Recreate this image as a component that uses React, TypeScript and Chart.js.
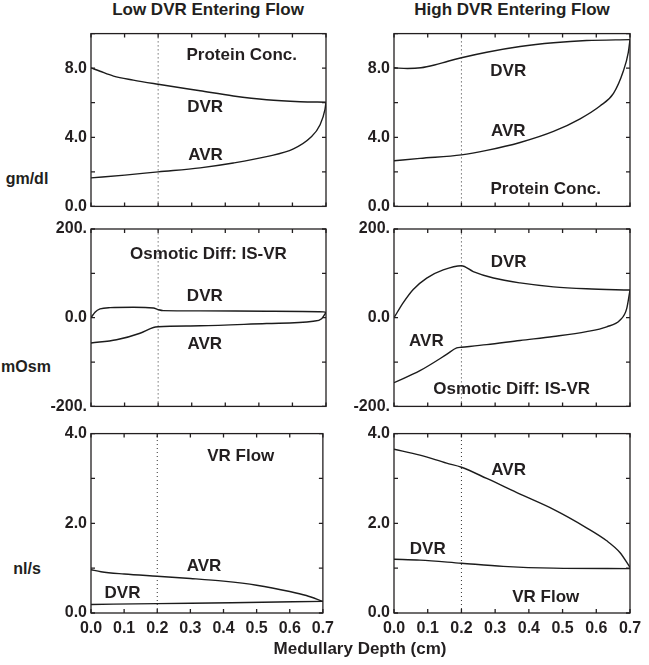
import React, { useEffect, useRef } from "react";
import { Chart, registerables } from "chart.js";

Chart.register(...registerables);

const INK = "#231f20";
const FONT = '"Liberation Sans", Arial, Helvetica, sans-serif';

// ---------- data (medullary depth in cm) ----------
// Low DVR entering flow, protein concentration (gm/dl)
const lowProtDvrX = [0, 0.027, 0.067, 0.126, 0.2, 0.325, 0.424, 0.523, 0.623, 0.7];
const lowProtDvrY = [8.02, 7.82, 7.54, 7.31, 7.07, 6.69, 6.39, 6.17, 6.06, 6.03];
const lowProtAvrX = [0, 0.101, 0.2, 0.325, 0.424, 0.523, 0.603, 0.653, 0.682, 0.697, 0.7];
const lowProtAvrY = [1.65, 1.81, 2.0, 2.23, 2.51, 2.88, 3.33, 3.97, 4.71, 5.62, 6.03];

// High DVR entering flow, protein concentration (gm/dl)
const highProtDvrX = [0, 0.04, 0.08, 0.12, 0.16, 0.2, 0.275, 0.374, 0.473, 0.571, 0.7];
const highProtDvrY = [8.02, 7.98, 8.02, 8.18, 8.4, 8.6, 8.92, 9.25, 9.47, 9.6, 9.65];
const highProtAvrX = [0, 0.077, 0.2, 0.275, 0.374, 0.473, 0.552, 0.611, 0.651, 0.68, 0.695, 0.7];
const highProtAvrY = [2.64, 2.78, 2.98, 3.24, 3.7, 4.34, 5.07, 5.81, 6.54, 7.82, 8.92, 9.65];

// Low DVR entering flow, osmotic difference IS-VR (mOsm)
const lowOsmDvrX = [0, 0.012, 0.027, 0.057, 0.126, 0.186, 0.2, 0.215, 0.325, 0.523, 0.692, 0.7];
const lowOsmDvrY = [0, 12.5, 19.8, 22.7, 23.4, 22, 18.3, 16, 15.4, 14.6, 13.2, 12];
const lowOsmAvrX = [0, 0.076, 0.146, 0.186, 0.2, 0.325, 0.523, 0.662, 0.687, 0.7];
const lowOsmAvrY = [-57, -49.8, -35, -22, -20.5, -18.3, -13.2, -8, -2.2, 12];

// High DVR entering flow, osmotic difference IS-VR (mOsm)
const highOsmDvrX = [0, 0.028, 0.057, 0.097, 0.146, 0.2, 0.235, 0.295, 0.374, 0.473, 0.571, 0.7];
const highOsmDvrY = [0, 34.5, 63.7, 89.4, 107.7, 117.2, 104, 89.4, 78.4, 69.6, 65.2, 62.3];
const highOsmAvrX = [0, 0.077, 0.156, 0.186, 0.2, 0.275, 0.374, 0.473, 0.571, 0.631, 0.67, 0.69, 0.7];
const highOsmAvrY = [-146.5, -119.4, -82.8, -68, -66.7, -60.8, -51.3, -42.5, -31.5, -20.5, -5.9, 19.8, 62.3];

// Low DVR entering flow, VR flow (nl/s)
const lowFlowAvrX = [0, 0.03, 0.1, 0.2, 0.3, 0.4, 0.5, 0.6, 0.65, 0.7];
const lowFlowAvrY = [0.966, 0.92, 0.87, 0.82, 0.77, 0.71, 0.62, 0.48, 0.39, 0.26];
const lowFlowDvrX = [0, 0.2, 0.424, 0.7];
const lowFlowDvrY = [0.19, 0.21, 0.23, 0.26];

// High DVR entering flow, VR flow (nl/s)
const highFlowAvrX = [0, 0.077, 0.156, 0.2, 0.275, 0.374, 0.473, 0.571, 0.631, 0.67, 0.7];
const highFlowAvrY = [3.65, 3.52, 3.34, 3.25, 3.0, 2.65, 2.31, 1.9, 1.61, 1.35, 1.02];
const highFlowDvrX = [0, 0.077, 0.2, 0.324, 0.473, 0.7];
const highFlowDvrY = [1.2, 1.18, 1.11, 1.04, 1.0, 0.99];

// depth of the dotted reference line
const markerDepth = 0.2;

// axis ranges / ticks
const xTicks = [0, 0.1, 0.2, 0.3, 0.4, 0.5, 0.6, 0.7];
const protRange = [0, 10];
const protStep = 2;
const protLabels = ["0.0", "", "4.0", "", "8.0", ""];
const osmRange = [-200, 200];
const osmStep = 100;
const osmLabels = ["-200.", "", "0.0", "", "200."];
const flowRange = [0, 4];
const flowStep = 1;
const flowLabels = ["0.0", "", "2.0", "", "4.0"];

// in-panel labels: [text, depth, value]
const lowProtNotes: [string, number, number][] = [["Protein Conc.", 0.449, 8.74], ["DVR", 0.34, 5.71], ["AVR", 0.341, 2.97]];
const highProtNotes: [string, number, number][] = [["DVR", 0.339, 7.82], ["AVR", 0.339, 4.34], ["Protein Conc.", 0.45, 0.99]];
const lowOsmNotes: [string, number, number][] = [["Osmotic Diff: IS-VR", 0.35, 144], ["DVR", 0.339, 49], ["AVR", 0.339, -61]];
const highOsmNotes: [string, number, number][] = [["DVR", 0.34, 126], ["AVR", 0.096, -53], ["Osmotic Diff: IS-VR", 0.349, -162]];
const lowFlowNotes: [string, number, number][] = [["VR Flow", 0.452, 3.5], ["AVR", 0.341, 1.04], ["DVR", 0.095, 0.45]];
const highFlowNotes: [string, number, number][] = [["AVR", 0.34, 3.19], ["DVR", 0.1, 1.42], ["VR Flow", 0.45, 0.35]];

// ---------- layout ----------
const COLS = [
  { left: 0, width: 340, axisW: 91, padR: 14 },
  { left: 330, width: 319, axisW: 64, padR: 19 },
];
const ROWS = [
  { top: 20, height: 200, padT: 7, axisH: 11 },
  { top: 215, height: 205, padT: 14, axisH: 9 },
  { top: 420, height: 245, padT: 12, axisH: 52 },
];

const pts = (xs: number[], ys: number[]) => xs.map((x, i) => ({ x, y: ys[i] }));

const framePlugin = {
  id: "frame",
  afterDatasetsDraw(chart: any, _args: any, opts: any) {
    const { ctx, chartArea: a, scales } = chart;
    const x = scales.x;
    const y = scales.y;
    ctx.save();
    ctx.strokeStyle = INK;
    ctx.lineWidth = 1.3;
    ctx.strokeRect(a.left, a.top, a.right - a.left, a.bottom - a.top);
    ctx.beginPath();
    const tl = 4;
    x.ticks.forEach((t: any) => {
      const px = x.getPixelForValue(t.value);
      ctx.moveTo(px, a.bottom);
      ctx.lineTo(px, a.bottom - tl);
      ctx.moveTo(px, a.top);
      ctx.lineTo(px, a.top + tl);
    });
    y.ticks.forEach((t: any) => {
      const py = y.getPixelForValue(t.value);
      ctx.moveTo(a.left, py);
      ctx.lineTo(a.left + tl, py);
      ctx.moveTo(a.right, py);
      ctx.lineTo(a.right - tl, py);
    });
    ctx.stroke();
    ctx.fillStyle = INK;
    ctx.font = `bold 17px ${FONT}`;
    ctx.textAlign = "center";
    ctx.textBaseline = "middle";
    (opts.notes || []).forEach((n: [string, number, number]) => {
      ctx.fillText(n[0], x.getPixelForValue(n[1]), y.getPixelForValue(n[2]));
    });
    ctx.restore();
  },
};

type PanelProps = {
  col: number;
  row: number;
  dvrX: number[];
  dvrY: number[];
  avrX: number[];
  avrY: number[];
  range: number[];
  step: number;
  labels: string[];
  notes: [string, number, number][];
  showX: boolean;
};

function Panel(p: PanelProps) {
  const ref = useRef<HTMLCanvasElement>(null);
  const c = COLS[p.col];
  const r = ROWS[p.row];
  useEffect(() => {
    if (!ref.current) return;
    const line = (data: any[]) => ({
      data,
      borderColor: "#1c1c1c",
      borderWidth: 1.4,
      pointRadius: 0,
      fill: false,
      cubicInterpolationMode: "monotone" as const,
    });
    const chart = new Chart(ref.current, {
      type: "line",
      data: {
        datasets: [
          line(pts(p.dvrX, p.dvrY)),
          line(pts(p.avrX, p.avrY)),
          {
            data: [
              { x: markerDepth, y: p.range[0] },
              { x: markerDepth, y: p.range[1] },
            ],
            borderColor: "#333",
            borderWidth: 1,
            borderDash: [1, 3],
            pointRadius: 0,
            fill: false,
          },
        ],
      },
      options: {
        responsive: false,
        animation: false,
        devicePixelRatio: 1,
        events: [],
        layout: { padding: { top: r.padT, right: c.padR, bottom: 0, left: 0 } },
        plugins: {
          legend: { display: false },
          tooltip: { enabled: false },
          frame: { notes: p.notes },
        } as any,
        scales: {
          x: {
            type: "linear",
            min: xTicks[0],
            max: xTicks[xTicks.length - 1],
            afterBuildTicks: (s: any) => {
              s.ticks = xTicks.map((v) => ({ value: v }));
            },
            ticks: {
              display: p.showX,
              autoSkip: false,
              maxRotation: 0,
              padding: 6,
              color: INK,
              font: { family: FONT, size: 16, weight: "bold" },
              callback: (v: any) => Number(v).toFixed(1),
            },
            grid: { display: false, drawTicks: false },
            border: { display: false },
            afterFit: (s: any) => {
              s.height = r.axisH;
            },
          },
          y: {
            type: "linear",
            min: p.range[0],
            max: p.range[1],
            ticks: {
              stepSize: p.step,
              autoSkip: false,
              padding: 4,
              color: INK,
              font: { family: FONT, size: 16, weight: "bold" },
              callback: (_v: any, i: number) => p.labels[i] ?? "",
            },
            grid: { display: false, drawTicks: false },
            border: { display: false },
            afterFit: (s: any) => {
              s.width = c.axisW;
            },
          },
        },
      } as any,
      plugins: [framePlugin],
    });
    return () => chart.destroy();
  }, []);
  return (
    <canvas
      ref={ref}
      width={c.width}
      height={r.height}
      style={{ position: "absolute", left: c.left, top: r.top, width: c.width, height: r.height }}
    />
  );
}

const textStyle = (left: number, top: number, width: number, size = 16): React.CSSProperties => ({
  position: "absolute",
  left,
  top,
  width,
  textAlign: "center",
  font: `bold ${size}px ${FONT}`,
  lineHeight: "20px",
  color: INK,
  whiteSpace: "nowrap",
});

export default function App() {
  return (
    <div style={{ position: "absolute", left: 0, top: 0, width: 649, height: 665, background: "#fff", overflow: "hidden" }}>
      <div style={textStyle(58, 0, 300, 17)}>Low DVR Entering Flow</div>
      <div style={textStyle(362, 0, 300, 17)}>High DVR Entering Flow</div>
      <div style={textStyle(-23, 169, 100)}>gm/dl</div>
      <div style={textStyle(-24, 357, 100)}>mOsm</div>
      <div style={textStyle(-23, 559, 100)}>nl/s</div>
      <Panel col={0} row={0} dvrX={lowProtDvrX} dvrY={lowProtDvrY} avrX={lowProtAvrX} avrY={lowProtAvrY} range={protRange} step={protStep} labels={protLabels} notes={lowProtNotes} showX={false} />
      <Panel col={1} row={0} dvrX={highProtDvrX} dvrY={highProtDvrY} avrX={highProtAvrX} avrY={highProtAvrY} range={protRange} step={protStep} labels={protLabels} notes={highProtNotes} showX={false} />
      <Panel col={0} row={1} dvrX={lowOsmDvrX} dvrY={lowOsmDvrY} avrX={lowOsmAvrX} avrY={lowOsmAvrY} range={osmRange} step={osmStep} labels={osmLabels} notes={lowOsmNotes} showX={false} />
      <Panel col={1} row={1} dvrX={highOsmDvrX} dvrY={highOsmDvrY} avrX={highOsmAvrX} avrY={highOsmAvrY} range={osmRange} step={osmStep} labels={osmLabels} notes={highOsmNotes} showX={false} />
      <Panel col={0} row={2} dvrX={lowFlowDvrX} dvrY={lowFlowDvrY} avrX={lowFlowAvrX} avrY={lowFlowAvrY} range={flowRange} step={flowStep} labels={flowLabels} notes={lowFlowNotes} showX={true} />
      <Panel col={1} row={2} dvrX={highFlowDvrX} dvrY={highFlowDvrY} avrX={highFlowAvrX} avrY={highFlowAvrY} range={flowRange} step={flowStep} labels={flowLabels} notes={highFlowNotes} showX={true} />
      <div style={textStyle(210, 639, 300, 17)}>Medullary Depth (cm)</div>
    </div>
  );
}
